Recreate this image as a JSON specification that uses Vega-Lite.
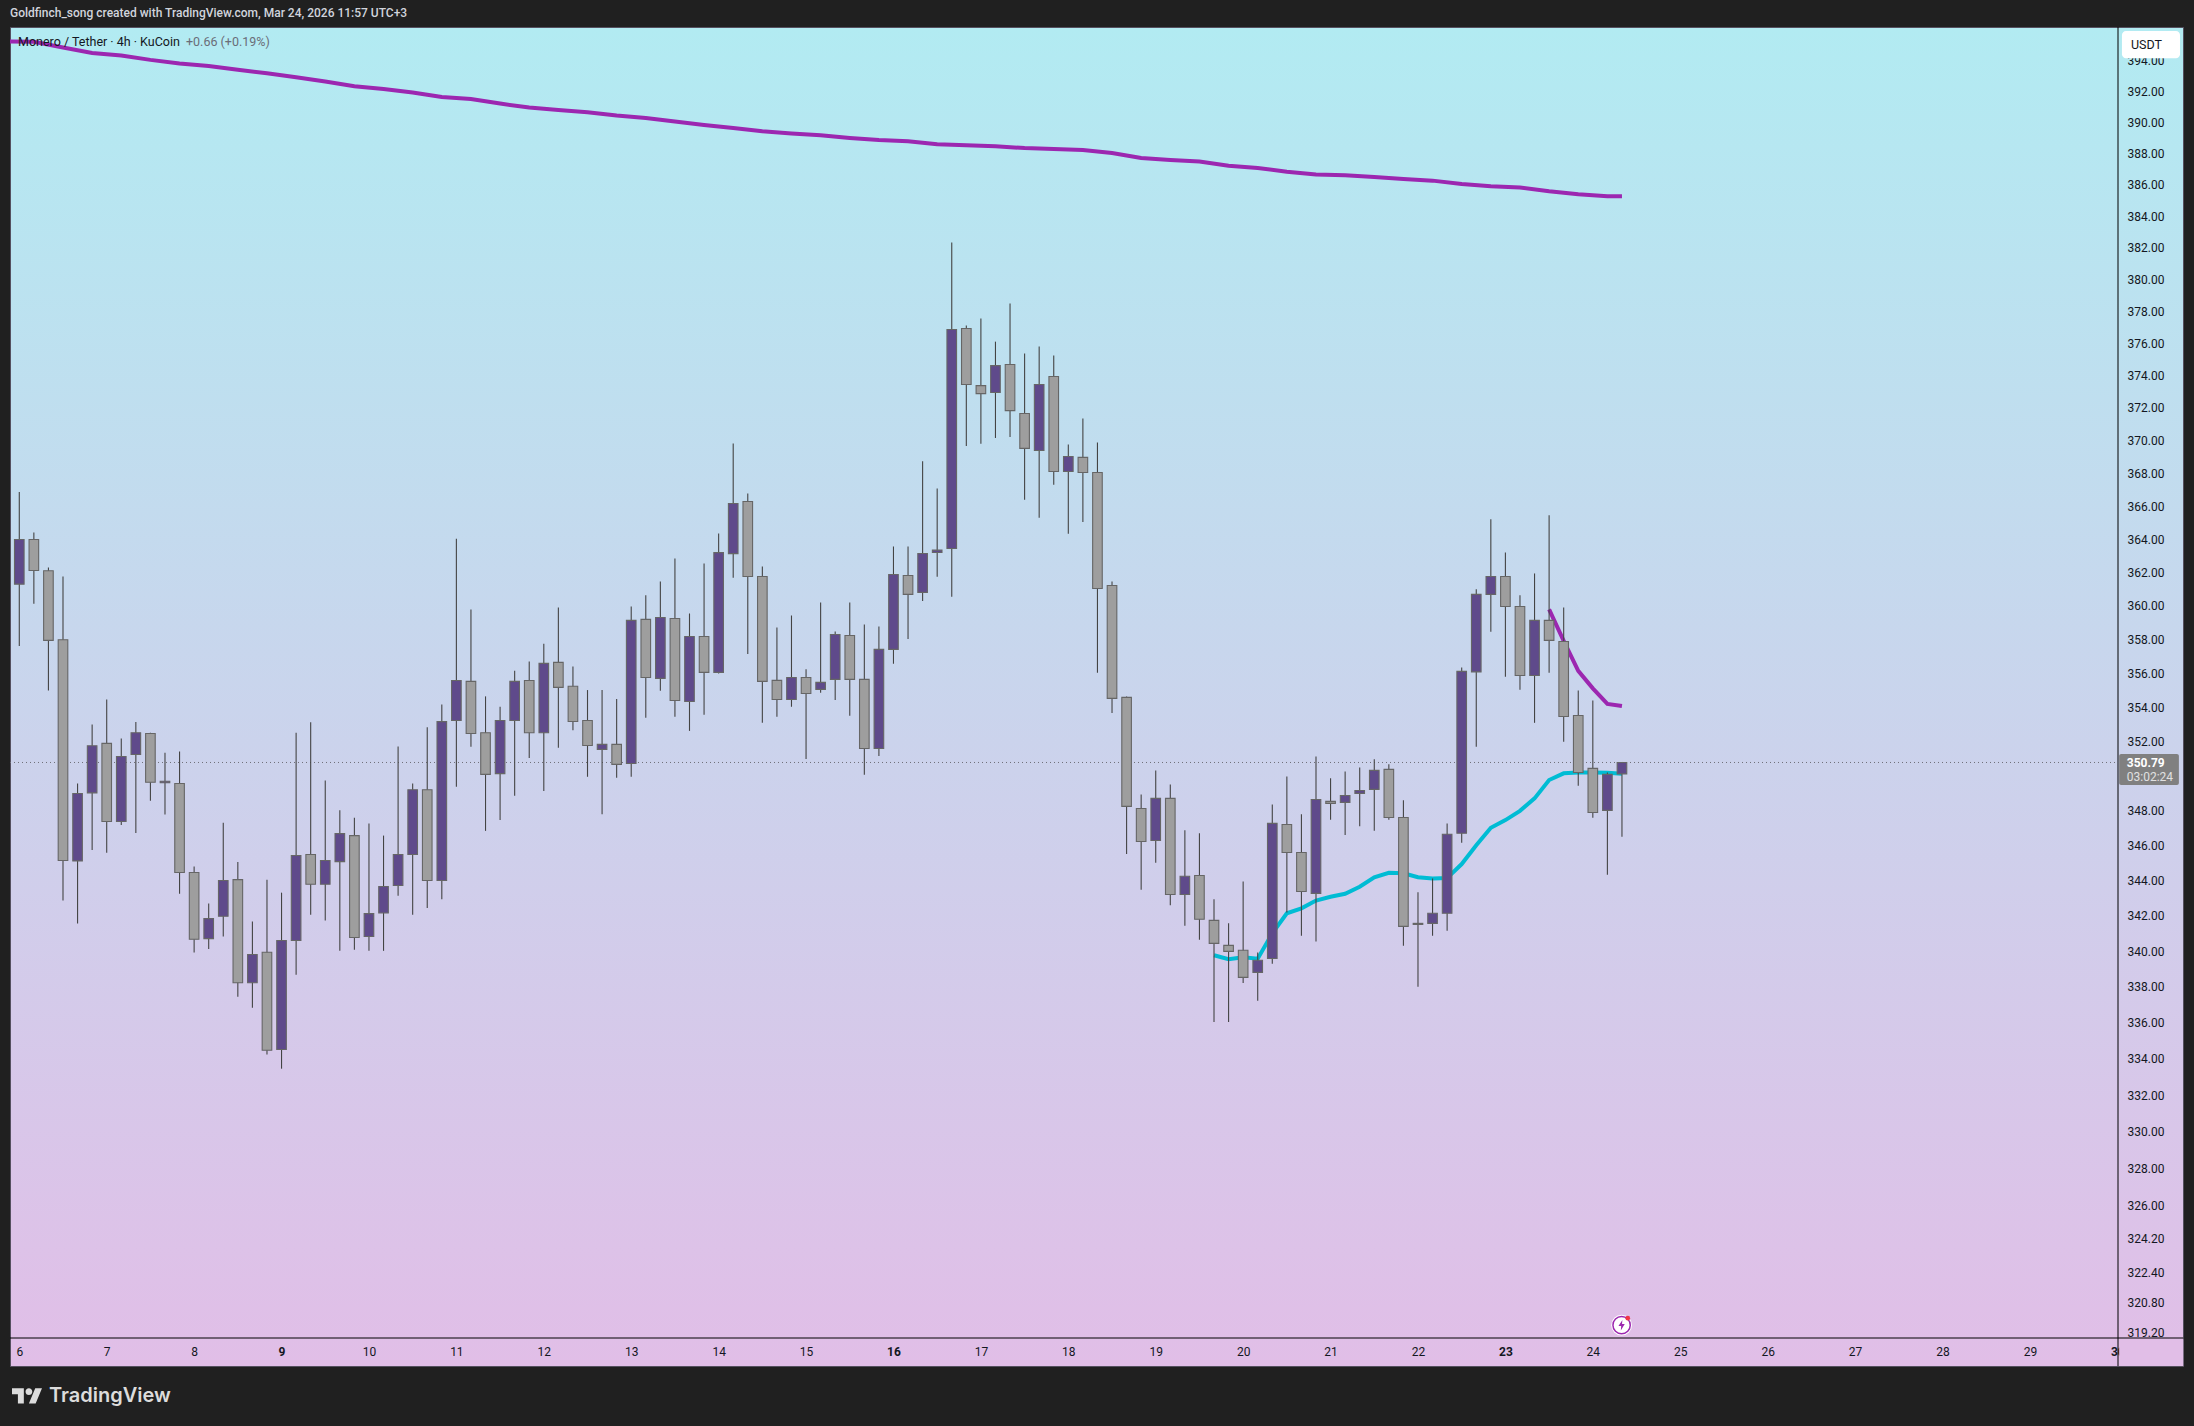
{
  "$schema": "https://vega.github.io/schema/vega-lite/v6.json",
  "width": 2173,
  "height": 1339,
  "autosize": "none",
  "padding": {"left": 10, "top": 27, "right": 11, "bottom": 60},
  "background": "#202020",
  "view": {
    "fill": {"x1": 0, "y1": 0, "x2": 0, "y2": 1, "gradient": "linear", "stops": [{"offset": 0, "color": "#b2ebf2"}, {"offset": 1, "color": "#e1bee7"}]},
    "stroke": "#55505f"
  },
  "title": {
    "text": "Goldfinch_song created with TradingView.com, Mar 24, 2026 11:57 UTC+3",
    "anchor": "start",
    "frame": "group",
    "offset": 7,
    "color": "#d1d4dc",
    "font": "Roboto",
    "fontSize": 12,
    "fontWeight": 500
  },
  "datasets": {
    "candles": [
      {"t":"2026-03-06T00:00Z","open":361.3,"high":366.85,"low":357.62,"close":363.98},
      {"t":"2026-03-06T04:00Z","open":363.98,"high":364.4,"low":360.13,"close":362.12},
      {"t":"2026-03-06T08:00Z","open":362.1,"high":362.3,"low":354.99,"close":357.95},
      {"t":"2026-03-06T12:00Z","open":357.99,"high":361.76,"low":342.86,"close":345.14},
      {"t":"2026-03-06T16:00Z","open":345.12,"high":349.57,"low":341.56,"close":348.99},
      {"t":"2026-03-06T20:00Z","open":349.03,"high":353,"low":345.75,"close":351.76},
      {"t":"2026-03-07T00:00Z","open":351.9,"high":354.47,"low":345.58,"close":347.38},
      {"t":"2026-03-07T04:00Z","open":347.38,"high":352.19,"low":347.18,"close":351.14},
      {"t":"2026-03-07T08:00Z","open":351.25,"high":353.15,"low":346.72,"close":352.52},
      {"t":"2026-03-07T12:00Z","open":352.48,"high":352.52,"low":348.57,"close":349.64},
      {"t":"2026-03-07T16:00Z","open":349.61,"high":351.36,"low":347.78,"close":349.7},
      {"t":"2026-03-07T20:00Z","open":349.57,"high":351.43,"low":343.25,"close":344.46},
      {"t":"2026-03-08T00:00Z","open":344.46,"high":344.8,"low":339.92,"close":340.67},
      {"t":"2026-03-08T04:00Z","open":340.71,"high":342.7,"low":340.13,"close":341.84},
      {"t":"2026-03-08T08:00Z","open":341.97,"high":347.31,"low":340.83,"close":344},
      {"t":"2026-03-08T12:00Z","open":344.05,"high":345.06,"low":337.45,"close":338.23},
      {"t":"2026-03-08T16:00Z","open":338.23,"high":341.68,"low":336.83,"close":339.81},
      {"t":"2026-03-08T20:00Z","open":339.94,"high":344.05,"low":334.23,"close":334.47},
      {"t":"2026-03-09T00:00Z","open":334.51,"high":343.31,"low":333.45,"close":340.6},
      {"t":"2026-03-09T04:00Z","open":340.6,"high":352.52,"low":338.67,"close":345.43},
      {"t":"2026-03-09T08:00Z","open":345.49,"high":353.13,"low":342.06,"close":343.79},
      {"t":"2026-03-09T12:00Z","open":343.79,"high":349.75,"low":341.73,"close":345.14},
      {"t":"2026-03-09T16:00Z","open":345.08,"high":348.02,"low":340.02,"close":346.68},
      {"t":"2026-03-09T20:00Z","open":346.57,"high":347.6,"low":340.08,"close":340.77},
      {"t":"2026-03-10T00:00Z","open":340.83,"high":347.27,"low":340.02,"close":342.12},
      {"t":"2026-03-10T04:00Z","open":342.16,"high":346.57,"low":340.02,"close":343.66},
      {"t":"2026-03-10T08:00Z","open":343.72,"high":351.72,"low":343.14,"close":345.49},
      {"t":"2026-03-10T12:00Z","open":345.49,"high":349.57,"low":342.06,"close":349.21},
      {"t":"2026-03-10T16:00Z","open":349.21,"high":352.84,"low":342.44,"close":344},
      {"t":"2026-03-10T20:00Z","open":344,"high":354.18,"low":342.94,"close":353.17},
      {"t":"2026-03-11T00:00Z","open":353.24,"high":364.02,"low":349.39,"close":355.58},
      {"t":"2026-03-11T04:00Z","open":355.53,"high":359.79,"low":351.7,"close":352.48},
      {"t":"2026-03-11T08:00Z","open":352.52,"high":354.65,"low":346.84,"close":350.1},
      {"t":"2026-03-11T12:00Z","open":350.14,"high":354.04,"low":347.47,"close":353.24},
      {"t":"2026-03-11T16:00Z","open":353.24,"high":356.16,"low":348.86,"close":355.53},
      {"t":"2026-03-11T20:00Z","open":355.58,"high":356.7,"low":351.05,"close":352.52},
      {"t":"2026-03-12T00:00Z","open":352.52,"high":357.76,"low":349.14,"close":356.59},
      {"t":"2026-03-12T04:00Z","open":356.65,"high":359.91,"low":351.64,"close":355.18},
      {"t":"2026-03-12T08:00Z","open":355.24,"high":356.41,"low":352.67,"close":353.18},
      {"t":"2026-03-12T12:00Z","open":353.24,"high":355.02,"low":349.96,"close":351.78},
      {"t":"2026-03-12T16:00Z","open":351.55,"high":355.02,"low":347.8,"close":351.84},
      {"t":"2026-03-12T20:00Z","open":351.84,"high":354.49,"low":349.9,"close":350.68},
      {"t":"2026-03-13T00:00Z","open":350.73,"high":359.97,"low":349.96,"close":359.14},
      {"t":"2026-03-13T04:00Z","open":359.2,"high":360.63,"low":353.39,"close":355.76},
      {"t":"2026-03-13T08:00Z","open":355.71,"high":361.46,"low":354.98,"close":359.31},
      {"t":"2026-03-13T12:00Z","open":359.25,"high":362.84,"low":353.45,"close":354.41},
      {"t":"2026-03-13T16:00Z","open":354.35,"high":359.55,"low":352.63,"close":358.18},
      {"t":"2026-03-13T20:00Z","open":358.18,"high":362.54,"low":353.57,"close":356.06},
      {"t":"2026-03-14T00:00Z","open":356.06,"high":364.34,"low":356,"close":363.19},
      {"t":"2026-03-14T04:00Z","open":363.13,"high":369.81,"low":361.68,"close":366.16},
      {"t":"2026-03-14T08:00Z","open":366.28,"high":366.77,"low":357.15,"close":361.76},
      {"t":"2026-03-14T12:00Z","open":361.76,"high":362.36,"low":353.1,"close":355.53},
      {"t":"2026-03-14T16:00Z","open":355.59,"high":358.72,"low":353.45,"close":354.47},
      {"t":"2026-03-14T20:00Z","open":354.47,"high":359.43,"low":354.04,"close":355.76},
      {"t":"2026-03-15T00:00Z","open":355.76,"high":356.24,"low":350.99,"close":354.82},
      {"t":"2026-03-15T04:00Z","open":355.06,"high":360.21,"low":354.86,"close":355.47},
      {"t":"2026-03-15T08:00Z","open":355.65,"high":358.48,"low":354.44,"close":358.3},
      {"t":"2026-03-15T12:00Z","open":358.24,"high":360.21,"low":353.51,"close":355.65},
      {"t":"2026-03-15T16:00Z","open":355.65,"high":358.9,"low":350.08,"close":351.6},
      {"t":"2026-03-15T20:00Z","open":351.6,"high":358.78,"low":351.17,"close":357.42},
      {"t":"2026-03-16T00:00Z","open":357.42,"high":363.56,"low":356.57,"close":361.88},
      {"t":"2026-03-16T04:00Z","open":361.82,"high":363.56,"low":358.04,"close":360.69},
      {"t":"2026-03-16T08:00Z","open":360.81,"high":368.73,"low":360.3,"close":363.14},
      {"t":"2026-03-16T12:00Z","open":363.2,"high":367.07,"low":361.74,"close":363.34},
      {"t":"2026-03-16T16:00Z","open":363.44,"high":382.32,"low":360.54,"close":376.86},
      {"t":"2026-03-16T20:00Z","open":376.92,"high":377.1,"low":369.66,"close":373.44},
      {"t":"2026-03-17T00:00Z","open":373.37,"high":377.54,"low":369.79,"close":372.88},
      {"t":"2026-03-17T04:00Z","open":372.95,"high":376.1,"low":370.15,"close":374.61},
      {"t":"2026-03-17T08:00Z","open":374.68,"high":378.48,"low":370.21,"close":371.83},
      {"t":"2026-03-17T12:00Z","open":371.65,"high":375.36,"low":366.38,"close":369.51},
      {"t":"2026-03-17T16:00Z","open":369.38,"high":375.8,"low":365.29,"close":373.44},
      {"t":"2026-03-17T20:00Z","open":373.94,"high":375.24,"low":367.29,"close":368.1},
      {"t":"2026-03-18T00:00Z","open":368.1,"high":369.75,"low":364.32,"close":369.02},
      {"t":"2026-03-18T04:00Z","open":368.96,"high":371.34,"low":365.04,"close":368.04},
      {"t":"2026-03-18T08:00Z","open":368.04,"high":369.87,"low":356.04,"close":361.04},
      {"t":"2026-03-18T12:00Z","open":361.22,"high":361.46,"low":353.68,"close":354.53},
      {"t":"2026-03-18T16:00Z","open":354.59,"high":354.64,"low":345.52,"close":348.25},
      {"t":"2026-03-18T20:00Z","open":348.13,"high":348.94,"low":343.47,"close":346.23},
      {"t":"2026-03-19T00:00Z","open":346.29,"high":350.33,"low":345.01,"close":348.71},
      {"t":"2026-03-19T04:00Z","open":348.71,"high":349.52,"low":342.6,"close":343.21},
      {"t":"2026-03-19T08:00Z","open":343.21,"high":346.87,"low":341.44,"close":344.24},
      {"t":"2026-03-19T12:00Z","open":344.29,"high":346.7,"low":340.64,"close":341.8},
      {"t":"2026-03-19T16:00Z","open":341.74,"high":342.93,"low":336.04,"close":340.44},
      {"t":"2026-03-19T20:00Z","open":340.33,"high":341.57,"low":336.04,"close":339.99},
      {"t":"2026-03-20T00:00Z","open":340.05,"high":343.95,"low":338.22,"close":338.53},
      {"t":"2026-03-20T04:00Z","open":338.81,"high":339.93,"low":337.22,"close":339.49},
      {"t":"2026-03-20T08:00Z","open":339.59,"high":348.36,"low":339.29,"close":347.27},
      {"t":"2026-03-20T12:00Z","open":347.21,"high":349.98,"low":342.19,"close":345.6},
      {"t":"2026-03-20T16:00Z","open":345.6,"high":347.79,"low":340.87,"close":343.38},
      {"t":"2026-03-20T20:00Z","open":343.27,"high":351.14,"low":340.54,"close":348.65},
      {"t":"2026-03-21T00:00Z","open":348.54,"high":349.87,"low":347.48,"close":348.42},
      {"t":"2026-03-21T04:00Z","open":348.48,"high":350.27,"low":346.61,"close":348.88},
      {"t":"2026-03-21T08:00Z","open":349,"high":350.5,"low":347.11,"close":349.17},
      {"t":"2026-03-21T12:00Z","open":349.23,"high":350.97,"low":346.84,"close":350.33},
      {"t":"2026-03-21T16:00Z","open":350.39,"high":350.68,"low":347.48,"close":347.61},
      {"t":"2026-03-21T20:00Z","open":347.61,"high":348.6,"low":340.3,"close":341.4},
      {"t":"2026-03-22T00:00Z","open":341.51,"high":343.33,"low":338,"close":341.57},
      {"t":"2026-03-22T04:00Z","open":341.57,"high":344.12,"low":340.87,"close":342.14},
      {"t":"2026-03-22T08:00Z","open":342.14,"high":347.27,"low":341.15,"close":346.65},
      {"t":"2026-03-22T12:00Z","open":346.7,"high":356.35,"low":346.16,"close":356.12},
      {"t":"2026-03-22T16:00Z","open":356.09,"high":361,"low":351.7,"close":360.69},
      {"t":"2026-03-22T20:00Z","open":360.69,"high":365.21,"low":358.46,"close":361.76},
      {"t":"2026-03-23T00:00Z","open":361.76,"high":363.2,"low":355.8,"close":359.97},
      {"t":"2026-03-23T04:00Z","open":359.97,"high":360.63,"low":355.04,"close":355.88},
      {"t":"2026-03-23T08:00Z","open":355.88,"high":361.94,"low":353.1,"close":359.14},
      {"t":"2026-03-23T12:00Z","open":359.14,"high":365.45,"low":356.04,"close":357.95},
      {"t":"2026-03-23T16:00Z","open":357.89,"high":359.91,"low":351.99,"close":353.47},
      {"t":"2026-03-23T20:00Z","open":353.53,"high":355,"low":349.44,"close":350.21},
      {"t":"2026-03-24T00:00Z","open":350.45,"high":354.41,"low":347.59,"close":347.9},
      {"t":"2026-03-24T04:00Z","open":348.02,"high":350.21,"low":344.33,"close":350.1},
      {"t":"2026-03-24T08:00Z","open":350.13,"high":350.79,"low":346.5,"close":350.79}
    ],
    "longMa": [
      {"t":"2026-03-05T20:00Z","ma":395.26},{"t":"2026-03-06T04:00Z","ma":395.24},{"t":"2026-03-06T12:00Z","ma":394.87},{"t":"2026-03-06T20:00Z","ma":394.51},
      {"t":"2026-03-07T04:00Z","ma":394.35},{"t":"2026-03-07T12:00Z","ma":394.06},{"t":"2026-03-07T20:00Z","ma":393.82},
      {"t":"2026-03-08T04:00Z","ma":393.66},{"t":"2026-03-08T12:00Z","ma":393.41},{"t":"2026-03-08T20:00Z","ma":393.19},
      {"t":"2026-03-09T04:00Z","ma":392.93},{"t":"2026-03-09T12:00Z","ma":392.65},{"t":"2026-03-09T20:00Z","ma":392.34},
      {"t":"2026-03-10T04:00Z","ma":392.17},{"t":"2026-03-10T12:00Z","ma":391.94},{"t":"2026-03-10T20:00Z","ma":391.65},
      {"t":"2026-03-11T04:00Z","ma":391.52},{"t":"2026-03-11T12:00Z","ma":391.22},{"t":"2026-03-11T20:00Z","ma":390.96},
      {"t":"2026-03-12T04:00Z","ma":390.81},{"t":"2026-03-12T12:00Z","ma":390.66},{"t":"2026-03-12T20:00Z","ma":390.45},
      {"t":"2026-03-13T04:00Z","ma":390.29},{"t":"2026-03-13T12:00Z","ma":390.06},{"t":"2026-03-13T20:00Z","ma":389.84},
      {"t":"2026-03-14T04:00Z","ma":389.64},{"t":"2026-03-14T12:00Z","ma":389.43},{"t":"2026-03-14T20:00Z","ma":389.28},
      {"t":"2026-03-15T04:00Z","ma":389.17},{"t":"2026-03-15T12:00Z","ma":389},{"t":"2026-03-15T20:00Z","ma":388.87},
      {"t":"2026-03-16T04:00Z","ma":388.79},{"t":"2026-03-16T12:00Z","ma":388.59},{"t":"2026-03-16T20:00Z","ma":388.53},
      {"t":"2026-03-17T04:00Z","ma":388.46},{"t":"2026-03-17T12:00Z","ma":388.35},{"t":"2026-03-17T20:00Z","ma":388.29},
      {"t":"2026-03-18T04:00Z","ma":388.23},{"t":"2026-03-18T12:00Z","ma":388.03},{"t":"2026-03-18T20:00Z","ma":387.71},
      {"t":"2026-03-19T04:00Z","ma":387.58},{"t":"2026-03-19T12:00Z","ma":387.48},{"t":"2026-03-19T20:00Z","ma":387.22},
      {"t":"2026-03-20T04:00Z","ma":387.07},{"t":"2026-03-20T12:00Z","ma":386.83},{"t":"2026-03-20T20:00Z","ma":386.66},
      {"t":"2026-03-21T04:00Z","ma":386.6},{"t":"2026-03-21T12:00Z","ma":386.49},{"t":"2026-03-21T20:00Z","ma":386.37},
      {"t":"2026-03-22T04:00Z","ma":386.26},{"t":"2026-03-22T12:00Z","ma":386.04},{"t":"2026-03-22T20:00Z","ma":385.9},
      {"t":"2026-03-23T04:00Z","ma":385.82},{"t":"2026-03-23T12:00Z","ma":385.58},{"t":"2026-03-23T20:00Z","ma":385.39},
      {"t":"2026-03-24T04:00Z","ma":385.26},{"t":"2026-03-24T08:00Z","ma":385.26}
    ],
    "shortMa": [
      {"t":"2026-03-23T12:00Z","ma":359.79},{"t":"2026-03-23T16:00Z","ma":357.92},{"t":"2026-03-23T20:00Z","ma":356.15},
      {"t":"2026-03-24T00:00Z","ma":355.12},{"t":"2026-03-24T04:00Z","ma":354.21},{"t":"2026-03-24T08:00Z","ma":354.08}
    ],
    "midMa": [
      {"t":"2026-03-19T16:00Z","ma":339.77},{"t":"2026-03-19T20:00Z","ma":339.55},{"t":"2026-03-20T00:00Z","ma":339.66},{"t":"2026-03-20T04:00Z","ma":339.58},
      {"t":"2026-03-20T08:00Z","ma":341.01},{"t":"2026-03-20T12:00Z","ma":342.14},{"t":"2026-03-20T16:00Z","ma":342.42},{"t":"2026-03-20T20:00Z","ma":342.86},
      {"t":"2026-03-21T00:00Z","ma":343.08},{"t":"2026-03-21T04:00Z","ma":343.25},{"t":"2026-03-21T08:00Z","ma":343.65},{"t":"2026-03-21T12:00Z","ma":344.18},
      {"t":"2026-03-21T16:00Z","ma":344.44},{"t":"2026-03-21T20:00Z","ma":344.41},{"t":"2026-03-22T00:00Z","ma":344.19},{"t":"2026-03-22T04:00Z","ma":344.12},
      {"t":"2026-03-22T08:00Z","ma":344.14},{"t":"2026-03-22T12:00Z","ma":344.94},{"t":"2026-03-22T16:00Z","ma":346.02},{"t":"2026-03-22T20:00Z","ma":347.02},
      {"t":"2026-03-23T00:00Z","ma":347.46},{"t":"2026-03-23T04:00Z","ma":347.99},{"t":"2026-03-23T08:00Z","ma":348.71},{"t":"2026-03-23T12:00Z","ma":349.77},
      {"t":"2026-03-23T16:00Z","ma":350.16},{"t":"2026-03-23T20:00Z","ma":350.21},{"t":"2026-03-24T00:00Z","ma":350.21},{"t":"2026-03-24T04:00Z","ma":350.19},{"t":"2026-03-24T08:00Z","ma":350.13}
    ]
  },
  "layer": [
    {
      "data": {"values": [{"t": "2026-03-05T21:27Z", "t2": "2026-03-30T00:11Z", "price": 350.79}]},
      "mark": {"type": "rule", "color": "#6f6f78", "strokeWidth": 1, "strokeDash": [1, 3]},
      "encoding": {
        "x": {
          "field": "t",
          "type": "temporal",
          "scale": {"type": "utc", "domain": ["2026-03-05T21:27:00Z", "2026-03-30T00:11:00Z"], "range": [0, 2108], "padding": 0},
          "axis": {
            "orient": "bottom",
            "offset": -28,
            "title": null,
            "domain": false,
            "ticks": false,
            "tickSize": 0,
            "grid": false,
            "tickCount": {"interval": "day", "step": 1},
            "labelExpr": "utcdate(datum.value)",
            "labelOverlap": false,
            "labelFlush": false,
            "labelFont": "Roboto",
            "labelFontSize": 12,
            "labelColor": "#131722",
            "labelBaseline": "middle",
            "labelPadding": 13,
            "labelFontWeight": {"condition": {"test": "utcday(datum.value) == 1", "value": "bold"}, "value": "normal"}
          }
        },
        "x2": {"field": "t2"},
        "y": {
          "field": "price",
          "type": "quantitative",
          "scale": {"type": "log", "domain": [318.91, 396.21], "range": [1311, 0], "nice": false, "zero": false},
          "axis": {
            "orient": "right",
            "offset": -65,
            "title": null,
            "domain": false,
            "ticks": false,
            "tickSize": 0,
            "grid": false,
            "values": [394, 392, 390, 388, 386, 384, 382, 380, 378, 376, 374, 372, 370, 368, 366, 364, 362, 360, 358, 356, 354, 352, 348, 346, 344, 342, 340, 338, 336, 334, 332, 330, 328, 326, 324.2, 322.4, 320.8, 319.2],
            "format": ".2f",
            "labelOverlap": false,
            "labelFlush": false,
            "labelFont": "Roboto",
            "labelFontSize": 12,
            "labelColor": "#131722",
            "labelAlign": "left",
            "labelBaseline": "middle",
            "labelPadding": 9
          }
        }
      }
    },
    {
      "data": {"name": "longMa"},
      "mark": {"type": "line", "color": "#9c27b0", "strokeWidth": 4, "clip": true},
      "encoding": {"x": {"field": "t", "type": "temporal"}, "y": {"field": "ma", "type": "quantitative"}}
    },
    {
      "data": {"name": "shortMa"},
      "mark": {"type": "line", "color": "#9c27b0", "strokeWidth": 4},
      "encoding": {"x": {"field": "t", "type": "temporal"}, "y": {"field": "ma", "type": "quantitative"}}
    },
    {
      "data": {"name": "midMa"},
      "mark": {"type": "line", "color": "#00bcd4", "strokeWidth": 4},
      "encoding": {"x": {"field": "t", "type": "temporal"}, "y": {"field": "ma", "type": "quantitative"}}
    },
    {
      "data": {"name": "candles"},
      "mark": {"type": "rule", "color": "#444444", "strokeWidth": 1.1},
      "encoding": {
        "x": {"field": "t", "type": "temporal"},
        "y": {"field": "low", "type": "quantitative"},
        "y2": {"field": "high"}
      }
    },
    {
      "data": {"name": "candles"},
      "mark": {"type": "bar", "size": 9.6, "orient": "vertical", "stroke": "#666666", "strokeWidth": 1.1},
      "encoding": {
        "x": {"field": "t", "type": "temporal"},
        "y": {"field": "open", "type": "quantitative"},
        "y2": {"field": "close"},
        "fill": {"condition": {"test": "datum.close >= datum.open", "value": "#5f4a8b"}, "value": "#9e9e9e"}
      }
    },
    {
      "data": {"values": [{"t": "2026-03-30T00:30Z", "t2": "2026-03-30T18:06Z", "price": 318.85, "price2": 317.43}]},
      "mark": {"type": "rect", "fill": "#e1bee7"},
      "encoding": {
        "x": {"field": "t", "type": "temporal"},
        "x2": {"field": "t2"},
        "y": {"field": "price", "type": "quantitative"},
        "y2": {"field": "price2"}
      }
    },
    {
      "data": {"values": [{"t": "2026-03-05T21:27Z", "t2": "2026-03-30T18:06Z", "price": 318.91}]},
      "mark": {"type": "rule", "color": "#000000", "strokeWidth": 1},
      "encoding": {
        "x": {"field": "t", "type": "temporal"},
        "x2": {"field": "t2"},
        "y": {"field": "price", "type": "quantitative"}
      }
    },
    {
      "data": {"values": [{"t": "2026-03-30T00:11Z", "price": 396.21, "price2": 317.43}]},
      "mark": {"type": "rule", "color": "#000000", "strokeWidth": 1},
      "encoding": {
        "x": {"field": "t", "type": "temporal"},
        "y": {"field": "price", "type": "quantitative"},
        "y2": {"field": "price2"}
      }
    },
    {
      "data": {"values": [{"t": "2026-03-30T01:16Z", "t2": "2026-03-30T17:12Z", "price": 395.95, "price2": 394.17}]},
      "mark": {"type": "rect", "fill": "#ffffff", "cornerRadius": 4},
      "encoding": {
        "x": {"field": "t", "type": "temporal"},
        "x2": {"field": "t2"},
        "y": {"field": "price", "type": "quantitative"},
        "y2": {"field": "price2"}
      }
    },
    {
      "data": {"values": [{"t": "2026-03-30T00:30Z", "t2": "2026-03-30T16:54Z", "price": 351.28, "price2": 349.48}]},
      "mark": {"type": "rect", "fill": "#808080", "cornerRadius": 2},
      "encoding": {
        "x": {"field": "t", "type": "temporal"},
        "x2": {"field": "t2"},
        "y": {"field": "price", "type": "quantitative"},
        "y2": {"field": "price2"}
      }
    },
    {
      "data": {"values": [
        {"t": "2026-03-05T23:39Z", "price": 395.22, "label": "Monero / Tether · 4h · KuCoin"},
        {"t": "2026-03-30T03:44Z", "price": 395.03, "label": "USDT"}
      ]},
      "mark": {"type": "text", "align": "left", "baseline": "middle", "font": "Roboto", "fontSize": 12.5, "color": "#131722"},
      "encoding": {
        "x": {"field": "t", "type": "temporal"},
        "y": {"field": "price", "type": "quantitative"},
        "text": {"field": "label"}
      }
    },
    {
      "data": {"values": [{"t": "2026-03-07T21:46Z", "price": 395.22, "label": "+0.66 (+0.19%)"}]},
      "mark": {"type": "text", "align": "left", "baseline": "middle", "font": "Roboto", "fontSize": 12.5, "color": "#6a6d78"},
      "encoding": {
        "x": {"field": "t", "type": "temporal"},
        "y": {"field": "price", "type": "quantitative"},
        "text": {"field": "label"}
      }
    },
    {
      "data": {"values": [{"t": "2026-03-30T02:36Z", "price": 350.75, "label": "350.79"}]},
      "mark": {"type": "text", "align": "left", "baseline": "middle", "font": "Roboto", "fontSize": 12, "fontWeight": "bold", "color": "#ffffff"},
      "encoding": {
        "x": {"field": "t", "type": "temporal"},
        "y": {"field": "price", "type": "quantitative"},
        "text": {"field": "label"}
      }
    },
    {
      "data": {"values": [{"t": "2026-03-30T02:36Z", "price": 349.94, "label": "03:02:24"}]},
      "mark": {"type": "text", "align": "left", "baseline": "middle", "font": "Roboto", "fontSize": 12, "color": "#e0e0e0"},
      "encoding": {
        "x": {"field": "t", "type": "temporal"},
        "y": {"field": "price", "type": "quantitative"},
        "text": {"field": "label"}
      }
    },
    {
      "data": {"values": [{"t": "2026-03-06T08:09Z", "price": 315.85, "label": "TradingView"}]},
      "mark": {"type": "text", "align": "left", "baseline": "middle", "font": "Inter", "fontSize": 20, "fontWeight": 600, "color": "#dcdcdc"},
      "encoding": {
        "x": {"field": "t", "type": "temporal"},
        "y": {"field": "price", "type": "quantitative"},
        "text": {"field": "label"}
      }
    },
    {
      "data": {"values": [{"t": "2026-03-06T02:07Z", "price": 315.87}]},
      "mark": {"type": "point", "filled": true, "opacity": 1, "fill": "#dcdcdc", "size": 900, "shape": "M-0.211 0.507H-0.606V-0.113H-1V-0.507H-0.211ZM0.577 0.507H0.127L0.549 -0.507H1ZM-0.098 -0.282a0.225 0.225 0 1 0 0.45 0a0.225 0.225 0 1 0 -0.45 0Z"},
      "encoding": {
        "x": {"field": "t", "type": "temporal"},
        "y": {"field": "price", "type": "quantitative"}
      }
    },
    {
      "data": {"values": [{"t": "2026-03-24T07:54Z", "price": 319.59}]},
      "mark": {"type": "point", "shape": "circle", "filled": true, "opacity": 1, "fill": "#ffffff", "size": 430},
      "encoding": {
        "x": {"field": "t", "type": "temporal"},
        "y": {"field": "price", "type": "quantitative"}
      }
    },
    {
      "data": {"values": [{"t": "2026-03-24T07:54Z", "price": 319.59}]},
      "mark": {"type": "point", "shape": "circle", "filled": false, "opacity": 1, "stroke": "#9c27b0", "strokeWidth": 1.5, "size": 300},
      "encoding": {
        "x": {"field": "t", "type": "temporal"},
        "y": {"field": "price", "type": "quantitative"}
      }
    },
    {
      "data": {"values": [{"t": "2026-03-24T07:54Z", "price": 319.59}]},
      "mark": {"type": "point", "filled": true, "opacity": 1, "fill": "#9c27b0", "size": 110, "shape": "M0.15 -1L-0.6 0.15L-0.08 0.15L-0.15 1L0.6 -0.2L0.08 -0.2Z"},
      "encoding": {
        "x": {"field": "t", "type": "temporal"},
        "y": {"field": "price", "type": "quantitative"}
      }
    },
    {
      "data": {"values": [{"t": "2026-03-24T09:36Z", "price": 319.96}]},
      "mark": {"type": "point", "shape": "circle", "filled": true, "opacity": 1, "fill": "#f23645", "size": 22},
      "encoding": {
        "x": {"field": "t", "type": "temporal"},
        "y": {"field": "price", "type": "quantitative"}
      }
    }
  ]
}
